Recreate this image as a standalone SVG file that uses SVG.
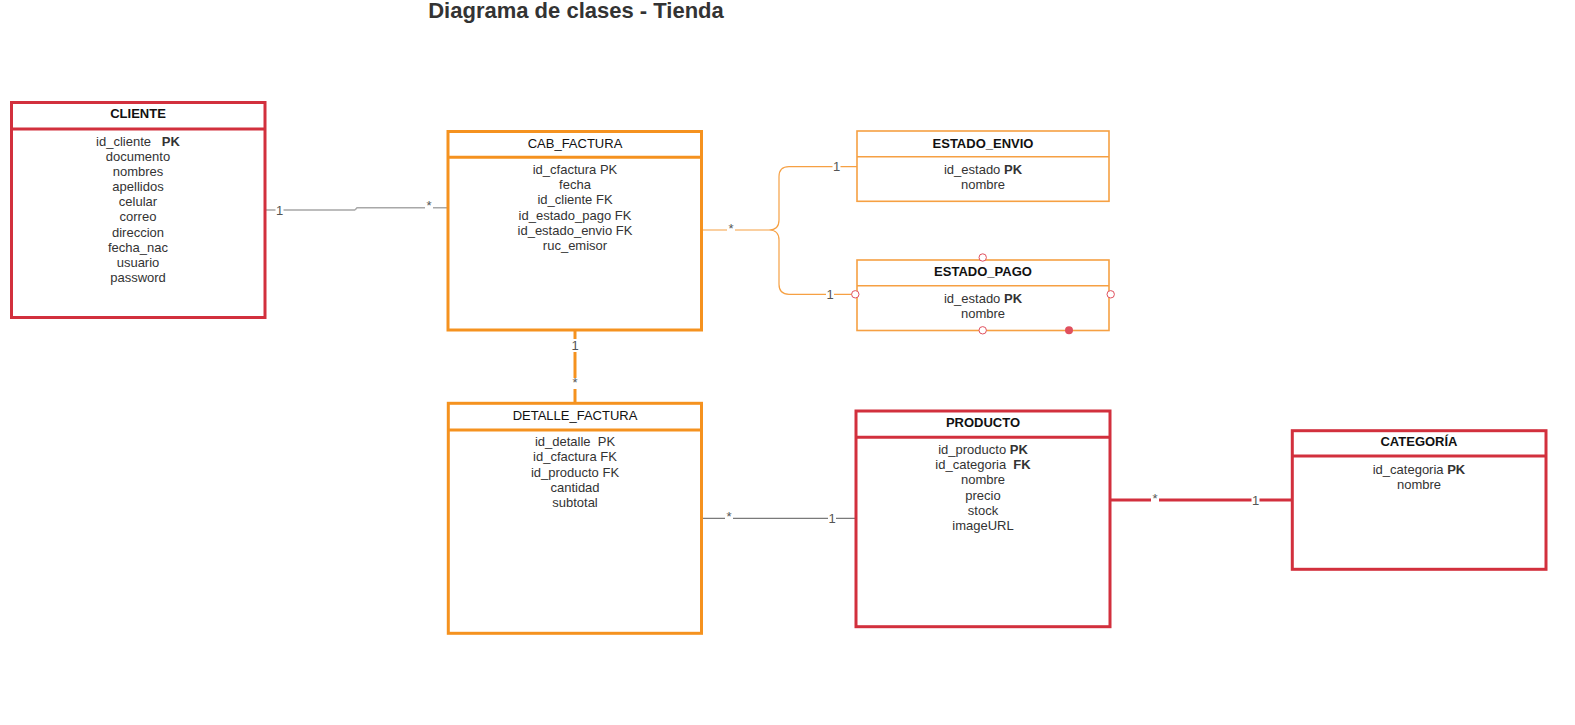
<svg xmlns="http://www.w3.org/2000/svg" width="1575" height="725" viewBox="0 0 1575 725">
<style>
.red{fill:#fff;stroke:#d2303d;stroke-width:3}
.org{fill:#fff;stroke:#f5921f;stroke-width:3}
.org2{fill:#fff;stroke:#f6a043;stroke-width:1.6}
.hd{font-family:"Liberation Sans",Arial,sans-serif;font-size:13px;fill:#111;text-anchor:middle}
.hb{font-weight:bold}
.at{font-family:"Liberation Sans",Arial,sans-serif;font-size:13px;fill:#333;text-anchor:middle;white-space:pre}
.at tspan.b{font-weight:bold}
.lb{font-family:"Liberation Sans",Arial,sans-serif;font-size:13px;fill:#555;text-anchor:middle}
.bg{fill:#fff}
.hdl{fill:#fff;stroke:#e0505e;stroke-width:1}
</style>
<text x="576" y="18" font-family="'Liberation Sans',Arial,sans-serif" font-size="22" font-weight="bold" fill="#333" text-anchor="middle">Diagrama de clases - Tienda</text>

<g id="connectors">
  <path d="M266,210 H355" fill="none" stroke="#7a7a7a" stroke-width="1.2"/>
  <path d="M355,210 L357,207.7 H447" fill="none" stroke="#a8a8a8" stroke-width="1.4"/>
  <rect class="bg" x="275.5" y="203" width="8" height="13"/>
  <text class="lb" x="279.5" y="214.5">1</text>
  <rect class="bg" x="425" y="201" width="8" height="8"/>
  <text class="lb" x="429" y="210">*</text>

  <path d="M702,230 H769 Q779,230 779,220 V176.7 Q779,166.7 789,166.7 H857 M769,230 Q779,230 779,240 V284.3 Q779,294.3 789,294.3 H857" fill="none" stroke="#f6a043" stroke-width="1.2"/>
  <rect class="bg" x="727" y="224" width="8" height="9"/>
  <text class="lb" x="731" y="233">*</text>
  <rect class="bg" x="832.5" y="160" width="8" height="13"/>
  <text class="lb" x="836.5" y="171">1</text>
  <rect class="bg" x="826" y="288" width="8" height="13"/>
  <text class="lb" x="830" y="299">1</text>

  <line x1="575" y1="330" x2="575" y2="402" stroke="#f5921f" stroke-width="3"/>
  <rect class="bg" x="569" y="339" width="12" height="13"/>
  <text class="lb" x="575" y="349.5">1</text>
  <rect class="bg" x="569" y="378" width="12" height="11"/>
  <text class="lb" x="575" y="387">*</text>

  <path d="M702,518.3 H857" fill="none" stroke="#7a7a7a" stroke-width="1.2"/>
  <rect class="bg" x="725" y="512" width="8" height="8"/>
  <text class="lb" x="729" y="521">*</text>
  <rect class="bg" x="828" y="512" width="8" height="13"/>
  <text class="lb" x="832" y="523">1</text>

  <path d="M1110,500 H1292" fill="none" stroke="#d2303d" stroke-width="3"/>
  <rect class="bg" x="1151" y="494" width="8" height="9"/>
  <text class="lb" x="1155" y="503">*</text>
  <rect class="bg" x="1251.5" y="494" width="8" height="13"/>
  <text class="lb" x="1255.5" y="504.5">1</text>
</g>

<g id="cliente">
  <rect class="red" x="11.5" y="102.5" width="253.5" height="215"/>
  <line x1="11.5" y1="129" x2="265" y2="129" stroke="#d2303d" stroke-width="3"/>
  <text class="hd hb" x="138" y="118">CLIENTE</text>
  <text class="at" x="138" y="146">id_cliente   <tspan class="b">PK</tspan></text>
  <text class="at" x="138" y="160.5">documento</text>
  <text class="at" x="138" y="175.5">nombres</text>
  <text class="at" x="138" y="191">apellidos</text>
  <text class="at" x="138" y="206">celular</text>
  <text class="at" x="138" y="221">correo</text>
  <text class="at" x="138" y="236.5">direccion</text>
  <text class="at" x="138" y="251.5">fecha_nac</text>
  <text class="at" x="138" y="266.5">usuario</text>
  <text class="at" x="138" y="281.5">password</text>
</g>

<g id="cab_factura">
  <rect class="org" x="448" y="131.5" width="253.5" height="198.5"/>
  <line x1="448" y1="157.3" x2="701.5" y2="157.3" stroke="#f5921f" stroke-width="3"/>
  <text class="hd" x="575" y="147.5">CAB_FACTURA</text>
  <text class="at" x="575" y="173.5">id_cfactura PK</text>
  <text class="at" x="575" y="188.5">fecha</text>
  <text class="at" x="575" y="204">id_cliente FK</text>
  <text class="at" x="575" y="219.5">id_estado_pago FK</text>
  <text class="at" x="575" y="234.5">id_estado_envio FK</text>
  <text class="at" x="575" y="250">ruc_emisor</text>
</g>

<g id="estado_envio">
  <rect class="org2" x="857" y="131" width="252" height="70.3"/>
  <line x1="857" y1="156.7" x2="1109" y2="156.7" stroke="#f6a043" stroke-width="1.6"/>
  <text class="hd hb" x="983" y="147.5">ESTADO_ENVIO</text>
  <text class="at" x="983" y="173.5">id_estado <tspan class="b">PK</tspan></text>
  <text class="at" x="983" y="188.5">nombre</text>
</g>

<g id="estado_pago">
  <rect class="org2" x="857" y="260" width="252" height="70.5"/>
  <line x1="857" y1="285.7" x2="1109" y2="285.7" stroke="#f6a043" stroke-width="1.6"/>
  <text class="hd hb" x="983" y="275.5">ESTADO_PAGO</text>
  <text class="at" x="983" y="302.5">id_estado <tspan class="b">PK</tspan></text>
  <text class="at" x="983" y="317.5">nombre</text>
  <circle class="hdl" cx="982.7" cy="257.5" r="3.7"/>
  <circle class="hdl" cx="855.3" cy="294.3" r="3.7"/>
  <circle class="hdl" cx="1110.7" cy="294.3" r="3.7"/>
  <circle class="hdl" cx="982.7" cy="330.3" r="3.7"/>
  <circle cx="1069" cy="330.3" r="4" fill="#e0505e"/>
</g>

<g id="detalle_factura">
  <rect class="org" x="448.3" y="403.3" width="253.2" height="230"/>
  <line x1="448.3" y1="430" x2="701.5" y2="430" stroke="#f5921f" stroke-width="3"/>
  <text class="hd" x="575" y="419.5">DETALLE_FACTURA</text>
  <text class="at" x="575" y="446" xml:space="preserve">id_detalle  PK</text>
  <text class="at" x="575" y="461">id_cfactura FK</text>
  <text class="at" x="575" y="476.5">id_producto FK</text>
  <text class="at" x="575" y="492">cantidad</text>
  <text class="at" x="575" y="507">subtotal</text>
</g>

<g id="producto">
  <rect class="red" x="856" y="411" width="254" height="215.7"/>
  <line x1="856" y1="437.3" x2="1110" y2="437.3" stroke="#d2303d" stroke-width="3"/>
  <text class="hd hb" x="983" y="427">PRODUCTO</text>
  <text class="at" x="983" y="453.5">id_producto <tspan class="b">PK</tspan></text>
  <text class="at" x="983" y="468.5" xml:space="preserve">id_categoria  <tspan class="b">FK</tspan></text>
  <text class="at" x="983" y="484">nombre</text>
  <text class="at" x="983" y="499.5">precio</text>
  <text class="at" x="983" y="514.5">stock</text>
  <text class="at" x="983" y="530">imageURL</text>
</g>

<g id="categoria">
  <rect class="red" x="1292.3" y="430.7" width="253.7" height="138.6"/>
  <line x1="1292.3" y1="456" x2="1546" y2="456" stroke="#d2303d" stroke-width="3"/>
  <text class="hd hb" x="1419" y="446">CATEGORÍA</text>
  <text class="at" x="1419" y="473.5">id_categoria <tspan class="b">PK</tspan></text>
  <text class="at" x="1419" y="488.5">nombre</text>
</g>
</svg>
